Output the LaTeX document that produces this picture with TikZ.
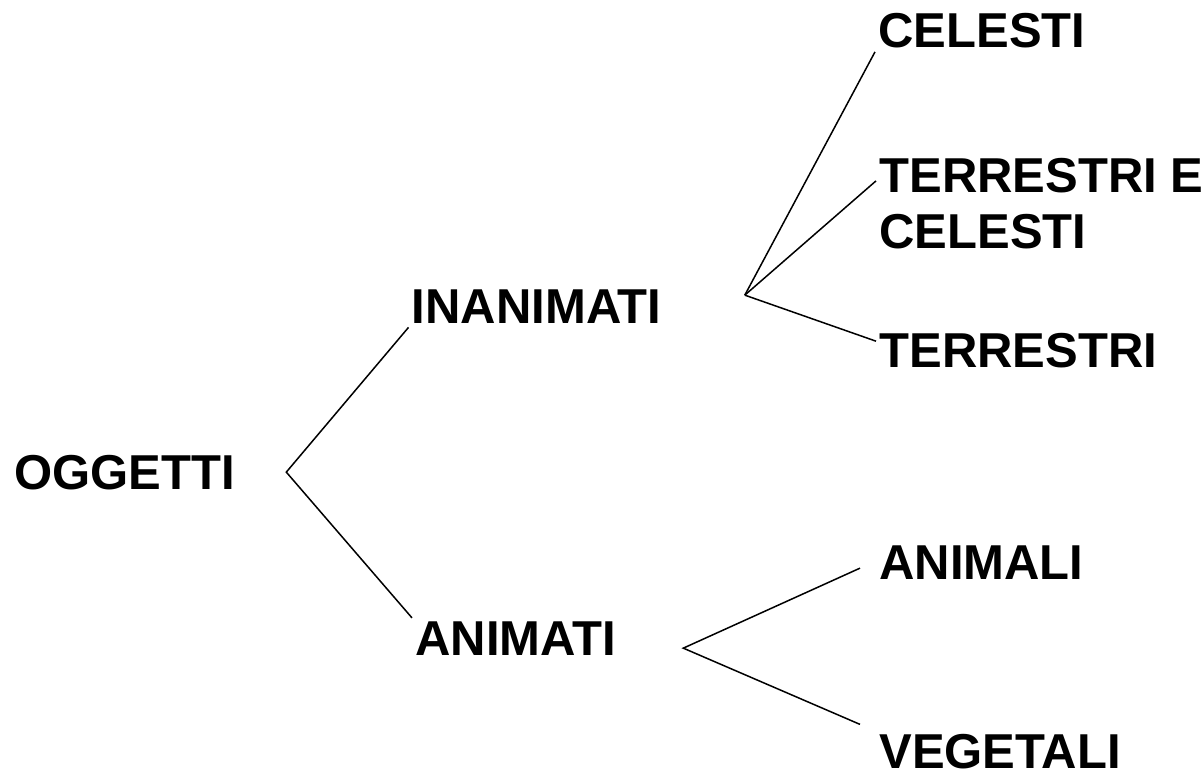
\documentclass[tikz,border=0pt]{standalone}
\usepackage{fontspec}
\setmainfont{Liberation Sans}
\usetikzlibrary{positioning, calc}
\tikzset{term/.style={anchor=base west, inner sep=1.5pt, align=left, font=\fontsize{24.5}{28}\selectfont\bfseries}}
\tikzset{branch/.style={line width=0.75pt}}

\begin{document}
\begin{tikzpicture}
\useasboundingbox (0,0) rectangle (602pt,386pt);
\node[term] (oggetti) at (5.5pt,141.5pt) {OGGETTI};
\node[term] (inanimati) at (204.25pt,224pt) {INANIMATI};
\node[term] (animati) at (206pt,58.5pt) {ANIMATI};
\node[term] (celesti) at (437.5pt,362pt) {CELESTI};
\node[term] (tercel) at (438pt,261.5pt) {TERRESTRI E\\CELESTI};
\node[term] (terrestri) at (438pt,202pt) {TERRESTRI};
\node[term] (animali) at (438pt,96.5pt) {ANIMALI};
\node[term] (vegetali) at (438pt,2pt) {VEGETALI};

\coordinate[right=24pt of oggetti.east] (p1);
\coordinate[above right=6pt and 40pt of inanimati.east] (p2);
\coordinate[below right=5pt and 32pt of animati.east] (p3);

\draw[branch] (inanimati.south west) -- (p1) -- (animati.north west);
\draw[branch] (celesti.south west) -- (p2);
\draw[branch] (tercel.172) -- (p2);
\draw[branch] (terrestri.176) -- (p2);
\draw[branch] ($(animali.west)+(-8pt,-3pt)$) -- (p3) -- ($(vegetali.north west)+(-8pt,3pt)$);
\end{tikzpicture}
\end{document}
